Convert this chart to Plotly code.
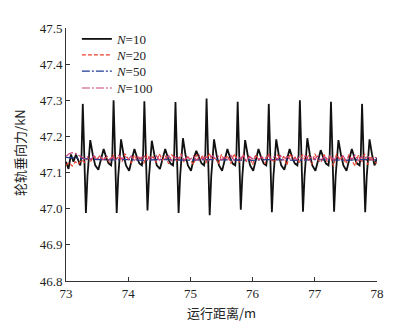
import plotly.graph_objects as go

# ---------------- data ----------------
x_n10 = [73.00, 73.04, 73.08, 73.12, 73.16, 73.19,
         73.23, 73.25, 73.27, 73.29, 73.305, 73.32, 73.345, 73.39, 73.43, 73.47, 73.52, 73.565, 73.605, 73.65,
         73.685, 73.725, 73.745, 73.765, 73.785, 73.80, 73.815, 73.84, 73.885, 73.925, 73.965, 74.015, 74.06, 74.10, 74.145,
         74.18, 74.22, 74.24, 74.26, 74.28, 74.295, 74.31, 74.335, 74.38, 74.42, 74.46, 74.51, 74.555, 74.595, 74.64,
         74.68, 74.72, 74.74, 74.76, 74.78, 74.795, 74.81, 74.835, 74.88, 74.92, 74.96, 75.01, 75.055, 75.095, 75.14,
         75.18, 75.22, 75.24, 75.26, 75.28, 75.295, 75.31, 75.335, 75.38, 75.42, 75.46, 75.51, 75.555, 75.595, 75.64,
         75.68, 75.72, 75.74, 75.76, 75.78, 75.795, 75.81, 75.835, 75.88, 75.92, 75.96, 76.01, 76.055, 76.095, 76.14,
         76.18, 76.22, 76.24, 76.26, 76.28, 76.295, 76.31, 76.335, 76.38, 76.42, 76.46, 76.51, 76.555, 76.595, 76.64,
         76.68, 76.72, 76.74, 76.76, 76.78, 76.795, 76.81, 76.835, 76.88, 76.92, 76.96, 77.01, 77.055, 77.095, 77.14,
         77.18, 77.22, 77.24, 77.26, 77.28, 77.295, 77.31, 77.335, 77.38, 77.42, 77.46, 77.51, 77.555, 77.595, 77.64,
         77.68, 77.72, 77.74, 77.76, 77.78, 77.795, 77.81, 77.835, 77.88, 77.92, 77.96, 78.00]
y_n10 = [47.130, 47.110, 47.150, 47.130, 47.150, 47.135,
         47.120, 47.150, 47.290, 47.170, 47.050, 46.988, 47.090, 47.190, 47.150, 47.120, 47.108, 47.140, 47.165, 47.140,
         47.125, 47.120, 47.150, 47.300, 47.170, 47.050, 46.988, 47.090, 47.192, 47.150, 47.120, 47.105, 47.140, 47.165, 47.140,
         47.125, 47.120, 47.150, 47.297, 47.170, 47.050, 46.995, 47.090, 47.188, 47.150, 47.120, 47.110, 47.140, 47.165, 47.140,
         47.125, 47.120, 47.150, 47.295, 47.170, 47.050, 46.988, 47.090, 47.195, 47.150, 47.120, 47.105, 47.140, 47.160, 47.140,
         47.125, 47.120, 47.150, 47.305, 47.170, 47.050, 46.982, 47.090, 47.192, 47.150, 47.120, 47.105, 47.140, 47.165, 47.140,
         47.125, 47.120, 47.150, 47.296, 47.170, 47.050, 46.997, 47.090, 47.190, 47.150, 47.120, 47.105, 47.140, 47.165, 47.140,
         47.125, 47.120, 47.150, 47.290, 47.170, 47.050, 46.990, 47.090, 47.192, 47.150, 47.120, 47.108, 47.140, 47.165, 47.140,
         47.125, 47.120, 47.150, 47.300, 47.170, 47.050, 46.992, 47.090, 47.195, 47.150, 47.120, 47.105, 47.140, 47.162, 47.140,
         47.125, 47.120, 47.150, 47.296, 47.170, 47.050, 46.992, 47.090, 47.190, 47.150, 47.120, 47.105, 47.140, 47.165, 47.140,
         47.125, 47.120, 47.150, 47.290, 47.170, 47.050, 46.990, 47.090, 47.192, 47.150, 47.120, 47.140]

x_fine = [73.00, 73.05, 73.10, 73.15, 73.20, 73.25, 73.30, 73.35, 73.40, 73.45, 73.50,
          73.55, 73.60, 73.65, 73.70, 73.75, 73.80, 73.85, 73.90, 73.95, 74.00,
          74.05, 74.10, 74.15, 74.20, 74.25, 74.30, 74.35, 74.40, 74.45, 74.50,
          74.55, 74.60, 74.65, 74.70, 74.75, 74.80, 74.85, 74.90, 74.95, 75.00,
          75.05, 75.10, 75.15, 75.20, 75.25, 75.30, 75.35, 75.40, 75.45, 75.50,
          75.55, 75.60, 75.65, 75.70, 75.75, 75.80, 75.85, 75.90, 75.95, 76.00,
          76.05, 76.10, 76.15, 76.20, 76.25, 76.30, 76.35, 76.40, 76.45, 76.50,
          76.55, 76.60, 76.65, 76.70, 76.75, 76.80, 76.85, 76.90, 76.95, 77.00,
          77.05, 77.10, 77.15, 77.20, 77.25, 77.30, 77.35, 77.40, 77.45, 77.50,
          77.55, 77.60, 77.65, 77.70, 77.75, 77.80, 77.85, 77.90, 77.95, 78.00]
y_n20 = [47.120, 47.128, 47.118, 47.130, 47.124, 47.135, 47.128, 47.140, 47.132, 47.145, 47.136,
         47.148, 47.132, 47.142, 47.128, 47.150, 47.135, 47.146, 47.130, 47.152, 47.138,
         47.126, 47.148, 47.132, 47.145, 47.125, 47.150, 47.136, 47.144, 47.128, 47.152,
         47.134, 47.146, 47.124, 47.150, 47.138, 47.130, 47.152, 47.128, 47.146, 47.135,
         47.122, 47.150, 47.132, 47.148, 47.126, 47.154, 47.136, 47.142, 47.124, 47.150,
         47.133, 47.147, 47.125, 47.152, 47.136, 47.128, 47.150, 47.130, 47.146, 47.122,
         47.150, 47.134, 47.146, 47.124, 47.152, 47.138, 47.128, 47.150, 47.132, 47.145,
         47.120, 47.152, 47.136, 47.144, 47.126, 47.150, 47.133, 47.147, 47.122, 47.152,
         47.135, 47.128, 47.150, 47.130, 47.146, 47.118, 47.152, 47.134, 47.145, 47.125,
         47.150, 47.132, 47.118, 47.148, 47.128, 47.152, 47.122, 47.145, 47.130, 47.125]
y_n100 = [47.145, 47.152, 47.155, 47.153, 47.148, 47.142, 47.138, 47.144, 47.136, 47.146, 47.138,
          47.144, 47.135, 47.147, 47.137, 47.143, 47.134, 47.148, 47.138, 47.145, 47.136,
          47.146, 47.134, 47.144, 47.138, 47.148, 47.135, 47.143, 47.137, 47.147, 47.134,
          47.145, 47.138, 47.147, 47.133, 47.144, 47.139, 47.148, 47.135, 47.143, 47.137,
          47.146, 47.134, 47.148, 47.138, 47.144, 47.133, 47.147, 47.139, 47.145, 47.135,
          47.143, 47.137, 47.148, 47.134, 47.145, 47.139, 47.147, 47.133, 47.144, 47.138,
          47.146, 47.135, 47.143, 47.139, 47.148, 47.134, 47.145, 47.137, 47.147, 47.133,
          47.144, 47.138, 47.148, 47.135, 47.143, 47.139, 47.147, 47.134, 47.145, 47.137,
          47.146, 47.133, 47.144, 47.138, 47.148, 47.135, 47.143, 47.139, 47.147, 47.134,
          47.145, 47.137, 47.148, 47.133, 47.144, 47.138, 47.147, 47.135, 47.143, 47.140]

x_n50 = [73.00, 73.25, 73.50, 73.75, 74.00, 74.25, 74.50, 74.75, 75.00, 75.25, 75.50,
         75.75, 76.00, 76.25, 76.50, 76.75, 77.00, 77.25, 77.50, 77.75, 78.00]
y_n50 = [47.142, 47.138, 47.136, 47.135, 47.136, 47.134, 47.136, 47.135, 47.134, 47.136, 47.135,
         47.135, 47.134, 47.136, 47.135, 47.134, 47.136, 47.135, 47.134, 47.136, 47.135]

series_names = ["<i>N</i>=10", "<i>N</i>=20", "<i>N</i>=50", "<i>N</i>=100"]
x_ticks = [73, 74, 75, 76, 77, 78]
y_ticks = [46.8, 46.9, 47.0, 47.1, 47.2, 47.3, 47.4, 47.5]
x_title = "运行距离/m"
y_title = "轮轨垂向力/kN"

# ---------------- figure ----------------
serif = "Liberation Serif"
cjk = "Noto Sans CJK SC"

fig = go.Figure()
fig.add_trace(go.Scatter(x=x_n10, y=y_n10, mode="lines", name=series_names[0], legend="legend",
                         line=dict(color="#111111", width=1.8)))
fig.add_trace(go.Scatter(x=x_fine, y=y_n20, mode="lines", name=series_names[1], legend="legend2",
                         line=dict(color="#e8412c", width=1.2, dash="4px,2px")))
fig.add_trace(go.Scatter(x=x_n50, y=y_n50, mode="lines", name=series_names[2], legend="legend3",
                         line=dict(color="#1f3a93", width=1.3, dash="8px,2px,2px,2px")))
fig.add_trace(go.Scatter(x=x_fine, y=y_n100, mode="lines", name=series_names[3], legend="legend4",
                         line=dict(color="#c8407a", width=1.2, dash="8px,2px,2px,2px")))

def leg(ypos):
    return dict(x=0.035, y=ypos, xanchor="left", yanchor="top",
                bgcolor="rgba(0,0,0,0)", font=dict(family=serif, size=13, color="#222222"),
                itemwidth=30)

fig.update_layout(
    width=390, height=321,
    margin=dict(l=58, r=21, t=20, b=48),
    paper_bgcolor="white", plot_bgcolor="white",
    font=dict(family=serif, size=13, color="#222222"),
    showlegend=True,
    legend=leg(1.016), legend2=leg(0.953), legend3=leg(0.889), legend4=leg(0.822),
    xaxis=dict(range=[73, 78], tickmode="array", tickvals=x_ticks,
               ticktext=[str(v) for v in x_ticks], automargin=False,
               showline=True, linecolor="#333333", linewidth=1,
               ticks="inside", ticklen=4, tickcolor="#333333",
               showgrid=False, zeroline=False,
               tickfont=dict(family=serif, size=13)),
    yaxis=dict(range=[46.8, 47.5], tickmode="array", tickvals=y_ticks,
               ticktext=[f"{v:.1f}" for v in y_ticks], automargin=False,
               showline=True, linecolor="#333333", linewidth=1,
               ticks="inside", ticklen=4, tickcolor="#333333",
               showgrid=False, zeroline=False,
               tickfont=dict(family=serif, size=13)),
    annotations=[
        dict(text=x_title, xref="paper", yref="paper", x=0.5, y=-0.126,
             xanchor="center", yanchor="middle", showarrow=False,
             font=dict(family=cjk, size=13, color="#222222")),
        dict(text=y_title, xref="paper", yref="paper", x=-0.148, y=0.51,
             xanchor="center", yanchor="middle", showarrow=False, textangle=-90,
             font=dict(family=cjk, size=13, color="#222222")),
    ],
)

fig.write_html("out.html")
